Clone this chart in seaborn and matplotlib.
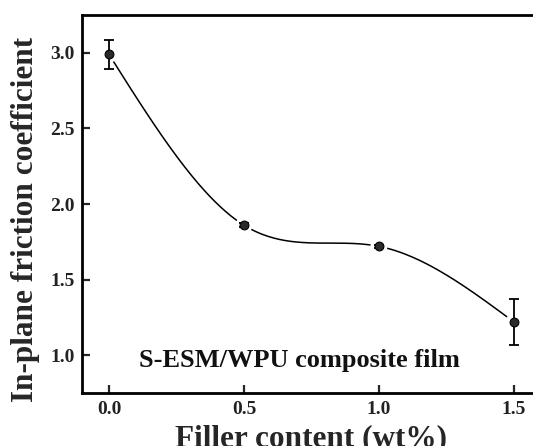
import numpy as np
import pandas as pd
import matplotlib
matplotlib.use("Agg")
import matplotlib.pyplot as plt
import seaborn as sns

filler = [0.0, 0.5, 1.0, 1.5]
friction = [2.99, 1.86, 1.72, 1.22]
err = [0.095, 0.015, 0.012, 0.15]
x_ticks = [0.0, 0.5, 1.0, 1.5]
y_ticks = [1.0, 1.5, 2.0, 2.5, 3.0]


def natural_spline(x, y, xs):
    # plain natural cubic spline, used only for the smooth connector line
    x = np.asarray(x, float)
    y = np.asarray(y, float)
    n = len(x)
    h = np.diff(x)
    A = np.zeros((n, n))
    b = np.zeros(n)
    A[0, 0] = A[-1, -1] = 1
    for i in range(1, n - 1):
        A[i, i - 1] = h[i - 1]
        A[i, i] = 2 * (h[i - 1] + h[i])
        A[i, i + 1] = h[i]
        b[i] = 3 * ((y[i + 1] - y[i]) / h[i] - (y[i] - y[i - 1]) / h[i - 1])
    c = np.linalg.solve(A, b)
    out = np.empty_like(xs)
    for k, xv in enumerate(xs):
        i = min(max(np.searchsorted(x, xv) - 1, 0), n - 2)
        dx = xv - x[i]
        bi = (y[i + 1] - y[i]) / h[i] - h[i] * (2 * c[i] + c[i + 1]) / 3
        di = (c[i + 1] - c[i]) / (3 * h[i])
        out[k] = y[i] + bi * dx + c[i] * dx ** 2 + di * dx ** 3
    return out


sns.set_style("ticks")
plt.rcParams["font.family"] = ["Liberation Serif", "DejaVu Serif"]
plt.rcParams["font.weight"] = "bold"

fig = plt.figure(figsize=(5.33, 4.46), dpi=100)
ax = fig.add_axes([0.1538, 0.1188, 0.861, 0.8475])

xs = np.linspace(filler[0], filler[-1], 300)
curve = pd.DataFrame({"x": xs, "y": natural_spline(filler, friction, xs)})
sns.lineplot(data=curve, x="x", y="y", ax=ax, color="black", linewidth=1.1, zorder=2)

df = pd.DataFrame({"x": filler, "y": friction})
# white halo so the line stops short of each point
sns.scatterplot(data=df, x="x", y="y", ax=ax, s=150, color="white",
                edgecolor="none", zorder=3)
ax.errorbar(filler, friction, yerr=err, fmt="none", ecolor="black",
            elinewidth=1.3, capsize=3.5, capthick=1.3, zorder=4)
sns.scatterplot(data=df, x="x", y="y", ax=ax, s=40, color="#2a2a2a",
                edgecolor="black", linewidth=0.8, zorder=5)

ax.set_xlim(-0.1, 1.6)
ax.set_ylim(0.75, 3.25)
ax.set_xticks(x_ticks)
ax.set_yticks(y_ticks)
ax.set_xticklabels([f"{v:.1f}" for v in x_ticks])
ax.set_yticklabels([f"{v:.1f}" for v in y_ticks])
ax.tick_params(direction="in", length=6, width=1.6, labelsize=14,
               labelcolor="#222222")
ax.tick_params(axis="x", pad=6)
ax.tick_params(axis="y", pad=5)
for side in ax.spines.values():
    side.set_linewidth(2.0)
    side.set_color("black")

ax.set_xlabel("Filler content (wt%)", fontsize=22.5, fontweight="bold")
ax.set_ylabel("In-plane friction coefficient", fontsize=22.5, fontweight="bold")
ax.xaxis.set_label_coords(0.5, -0.082)
ax.yaxis.set_label_coords(-0.092, 0.46)
ax.text(0.707, 0.92, "S-ESM/WPU composite film", fontsize=19,
        fontweight="bold", color="#111111", ha="center", va="baseline")

fig.savefig("out.png", dpi=100)
